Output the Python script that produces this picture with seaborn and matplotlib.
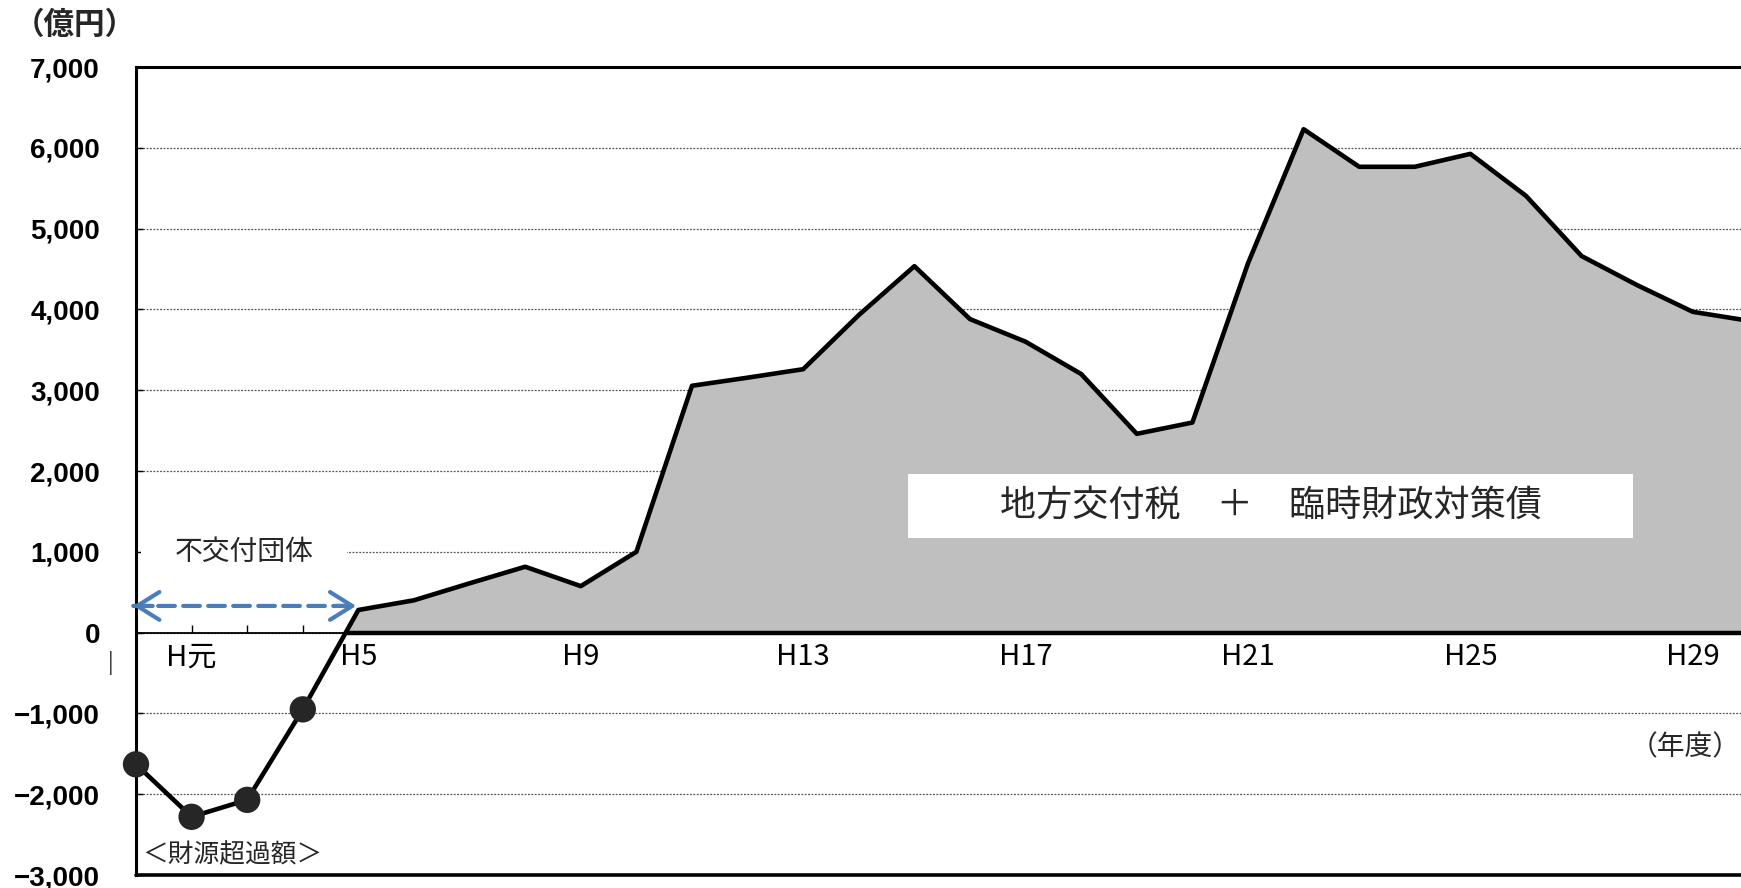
import numpy as np
import pandas as pd
import matplotlib
matplotlib.use("Agg")
import matplotlib.pyplot as plt
import seaborn as sns
from matplotlib.patches import Rectangle

# ---- data (億円), one value per fiscal year position ----
values = [-1630, -2280, -2070, -950, 280, 400, 610, 815, 575, 1000,
          3055, 3155, 3260, 3930, 4535, 3880, 3600, 3200, 2460, 2600,
          4570, 6230, 5765, 5765, 5925, 5405, 4660, 4300, 3970, 3860]
n_surplus = 4  # first points = 財源超過額 (markers)
label_positions = [1, 4, 8, 12, 16, 20, 24, 28]
label_texts = ["H元", "H5", "H9", "H13", "H17", "H21", "H25", "H29"]
y_ticks = [-3000, -2000, -1000, 0, 1000, 2000, 3000, 4000, 5000, 6000, 7000]

df = pd.DataFrame({"idx": np.arange(len(values)), "value": values})

sns.set_theme(style="white")
plt.rcParams["font.family"] = ["Noto Sans CJK JP", "DejaVu Sans"]

W, H = 1741, 888
fig = plt.figure(figsize=(W / 100, H / 100), dpi=100)
step = 55.6
ax = fig.add_axes([136 / W, 13 / H, 29.5 * step / W, 808 / H])
ax.set_xlim(0, 29.5)
ax.set_ylim(-3000, 7000)

# grid
ax.set_axisbelow(True)
ax.yaxis.grid(True, color="#555555", linestyle=(0, (1.5, 1.2)), linewidth=0.9)
ax.xaxis.grid(False)

x = df["idx"].to_numpy(dtype=float)
y = df["value"].to_numpy(dtype=float)

# area fill (positive part)
ax.fill_between(x, y, 0, where=y >= 0, interpolate=True, color="#BFBFBF",
                linewidth=0, zorder=1)

# white label box
ax.add_patch(Rectangle((13.88, 1171), 26.92 - 13.88, 1963 - 1171,
                       facecolor="white", edgecolor="none", zorder=2))
ax.text(20.41, 1567, "地方交付税　＋　臨時財政対策債", fontsize=26,
        ha="center", va="center", zorder=3)

# main line
sns.lineplot(data=df, x="idx", y="value", color="black", linewidth=3.3,
             ax=ax, zorder=4, sort=True)
# markers for 財源超過額
sns.scatterplot(data=df.iloc[:n_surplus], x="idx", y="value", s=360,
                color="#262626", edgecolor="none", ax=ax, zorder=5,
                clip_on=False, legend=False)

# thick baseline under the positive area
i0 = n_surplus - 1
xcross = x[i0] + (0 - y[i0]) / (y[i0 + 1] - y[i0])
ax.hlines(0, xcross, 29.5, colors="black", linewidth=3.2, zorder=4.5)

# spines
ax.spines["bottom"].set_position(("data", 0))
ax.spines["bottom"].set_linewidth(1.3)
ax.spines["bottom"].set_color("black")
for s in ["left", "top", "right"]:
    ax.spines[s].set_linewidth(2.2)
    ax.spines[s].set_color("black")
ax.axhline(-3000, color="black", linewidth=2.6, clip_on=False, zorder=6)

# ticks
xt_labels = [""] * len(values)
for p, t in zip(label_positions, label_texts):
    xt_labels[p] = t
ax.set_xticks(np.arange(len(values)))
ax.set_xticklabels(xt_labels, fontsize=21)
ax.tick_params(axis="x", bottom=True, top=False, direction="in", length=6,
               width=1, pad=7, colors="black")
ax.set_yticks(y_ticks)
ax.set_yticklabels([f"{v:,}".replace("-", "−") for v in y_ticks],
                   family=["Liberation Sans", "DejaVu Sans"],
                   fontweight="bold", fontsize=20)
ax.tick_params(axis="y", left=True, right=False, direction="in", length=5,
               width=1, pad=26, colors="black")
ax.set_xlabel("")
ax.set_ylabel("")

# annotations
ax.text(1.94, 1000, "不交付団体", fontsize=20, ha="center", va="center",
        zorder=3, bbox=dict(boxstyle="square,pad=1.2", facecolor="white",
                            edgecolor="none"))
arrow_col = "#4A7EBB"
ax.annotate("", xy=(3.96, 330), xytext=(-0.05, 330),
            arrowprops=dict(arrowstyle="-", linestyle=(0, (4, 2)), lw=3,
                            color=arrow_col, shrinkA=0, shrinkB=0),
            annotation_clip=False, zorder=7)
for tip, tail in [((3.96, 330), (3.6, 330)), ((-0.05, 330), (0.3, 330))]:
    ax.annotate("", xy=tip, xytext=tail,
                arrowprops=dict(arrowstyle="->,head_length=0.8,head_width=0.5",
                                lw=3, color=arrow_col, shrinkA=0, shrinkB=0,
                                mutation_scale=20),
                annotation_clip=False, zorder=7)

ax.text(1.73, -2752, "＜財源超過額＞", fontsize=18.5, ha="center", va="center",
        zorder=3)
ax.text(27.86, -1416, "（年度）", fontsize=20, ha="center", va="center",
        zorder=3)
ax.text(-0.45, -375, "|", fontsize=15, ha="center", va="center",
        clip_on=False)

fig.text(14 / W, 1 - 25 / H, "（億円）", fontsize=22, fontweight="bold",
         ha="left", va="center")

fig.savefig("out.png", dpi=100)
